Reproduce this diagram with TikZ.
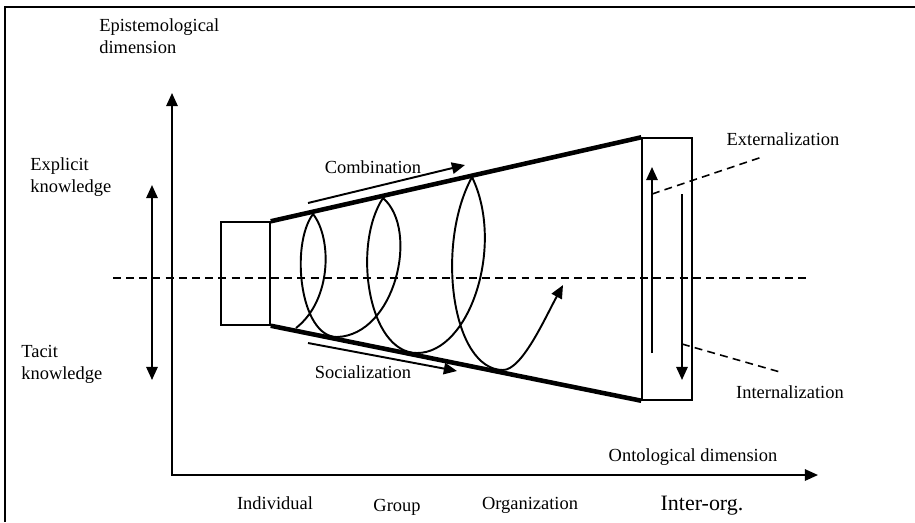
\documentclass[tikz,border=0pt]{standalone}
\usepackage{fontspec}
\setmainfont{Liberation Serif}
\usetikzlibrary{arrows.meta}

\begin{document}
\begin{tikzpicture}[x=0.02cm, y=-0.02cm,
    lbl/.style={font=\fontsize{10.5}{12.5}\selectfont, inner sep=0pt, align=left},
    tip/.style={-{Triangle[length=7.5pt,width=6.5pt]}},
    tips/.style={{Triangle[length=7.5pt,width=6.5pt]}-{Triangle[length=7.5pt,width=6.5pt]}},
    axis/.style={line width=1.1pt},
    fine/.style={line width=1.1pt},
    heavy/.style={line width=2.6pt},
    box/.style={draw, line width=0.85pt, inner sep=0pt},
    dashline/.style={line width=0.9pt, dash pattern=on 4.5pt off 3pt}]
  \useasboundingbox (0,0) rectangle (915,522);
  \draw[line width=1.3pt] (5,522) -- (5,7) -- (915,7);

  \node[lbl, anchor=west] (ed) at (99,36) {Epistemological\\dimension};
  \node[lbl, anchor=west] (ex) at (30,177) {Explicit\\knowledge};
  \node[lbl, anchor=west] (ta) at (21,364) {Tacit\\knowledge};

  \coordinate (o) at (172,475);
  \coordinate (ey) at (172,93);
  \coordinate (ox) at (818,475);
  \draw[axis, tips] (ey) -- (o) -- (ox);
  \node[lbl] (ont) at (693,457) {Ontological dimension};

  \coordinate (k1) at (152,185);
  \coordinate (k2) at (152,380);
  \draw[axis, tips] (k1) -- (k2);

  \coordinate (m1) at (113,278);
  \coordinate (m2) at (808,278);
  \draw[dashline] (m1) -- (m2);

  \node[box, minimum width=0.98cm, minimum height=2.06cm] (s) at (245.5,273.5) {};
  \node[box, minimum width=1cm, minimum height=5.24cm] (b) at (667,269) {};
  \draw[heavy] (s.north east) -- (b.north west);
  \draw[heavy] (s.south east) -- (b.south west);

  \coordinate (p0) at (296,328);
  \coordinate (t1) at (313,214);
  \coordinate (b1) at (337,337);
  \coordinate (t2) at (383,198);
  \coordinate (b2) at (417,353);
  \coordinate (t3) at (472,177);
  \coordinate (b3) at (503,370);
  \coordinate (e) at (563,285);
  \draw[fine, tip, line join=round] (p0) .. controls (332,300) and (332,238) .. (t1)
       .. controls (290,245) and (300,337) .. (b1)
       .. controls (395,335) and (420,230) .. (t2)
       .. controls (352,245) and (368,353) .. (b2)
       .. controls (470,353) and (505,245) .. (t3)
       .. controls (435,245) and (452,370) .. (b3)
       .. controls (522,370) and (545,318) .. (e);

  \coordinate (cb1) at (308,203);
  \coordinate (cb2) at (465,165);
  \draw[fine, tip] (cb1) -- (cb2);
  \node[lbl] (comb) at (373,167) {Combination};
  \coordinate (sc1) at (308,343);
  \coordinate (sc2) at (457,371);
  \draw[fine, tip] (sc1) -- (sc2);
  \node[lbl] (soc) at (363,372) {Socialization};

  \coordinate (u1) at (652,353);
  \coordinate (u2) at (652,167);
  \draw[fine, tip] (u1) -- (u2);
  \coordinate (d1) at (682,194);
  \coordinate (d2) at (682,380);
  \draw[fine, tip] (d1) -- (d2);

  \coordinate (ue) at (652,194);
  \coordinate (le) at (762,157);
  \draw[dashline] (ue) -- (le);
  \node[lbl] (ext) at (783,139) {Externalization};
  \coordinate (di) at (682,344);
  \coordinate (li) at (780,372);
  \draw[dashline] (di) -- (li);
  \node[lbl] (int) at (790,392) {Internalization};

  \node[lbl] (ind) at (275,503) {Individual};
  \node[lbl] (grp) at (397,507) {Group};
  \node[lbl] (org) at (530,505) {Organization};
  \node[lbl, font=\fontsize{12.5}{15}\selectfont] (io) at (702,506) {Inter-org.};
\end{tikzpicture}
\end{document}
